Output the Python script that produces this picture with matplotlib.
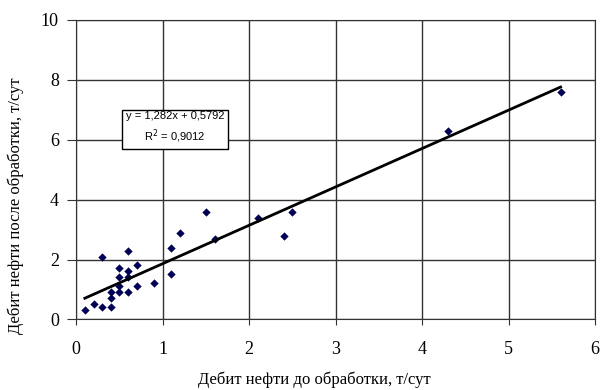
import numpy as np
import matplotlib.pyplot as plt

plt.rcParams['font.family'] = ['Liberation Serif', 'DejaVu Serif']

# debit before / after treatment, t/day
x_before = [0.1, 0.2, 0.3, 0.4, 0.4, 0.4, 0.3, 0.5, 0.5, 0.5, 0.5, 0.6, 0.6, 0.6, 0.6,
            0.7, 0.7, 0.9, 1.1, 1.1, 1.2, 1.5, 1.6, 2.1, 2.4, 2.5, 4.3, 5.6]
y_after = [0.3, 0.5, 0.4, 0.4, 0.7, 0.9, 2.1, 0.9, 1.1, 1.4, 1.7, 0.9, 1.6, 2.3, 1.4,
           1.8, 1.1, 1.2, 2.4, 1.5, 2.9, 3.6, 2.7, 3.4, 2.8, 3.6, 6.3, 7.6]
slope = 1.282
intercept = 0.5792
r2 = 0.9012

fig = plt.figure(figsize=(6, 3.9), dpi=100)
ax = fig.add_axes([0.127, 0.181, 0.865, 0.768])

ax.scatter(x_before, y_after, marker='D', s=18, color='#000055', zorder=3, linewidths=0)
xl = np.array([min(x_before), max(x_before)])
ax.plot(xl, slope * xl + intercept, color='black', linewidth=2, zorder=4)

ax.set_xlim(0, 6)
ax.set_ylim(0, 10)
ax.set_xticks(range(0, 7))
ax.set_yticks(range(0, 11, 2))
ax.grid(True, color='#333333', linewidth=1)
ax.set_axisbelow(True)
for s in ax.spines.values():
    s.set_color('#333333')
ax.tick_params(direction='out', color='#333333', labelsize=13)
ax.tick_params(axis='x', length=4.5, pad=11)
ax.tick_params(axis='y', length=6.5, pad=6)

ax.set_xlabel('Дебит нефти до обработки, т/сут', fontsize=12)
ax.set_ylabel('Дебит нефти после обработки, т/сут', fontsize=12)
ax.xaxis.set_label_coords(0.459, -0.175)
ax.yaxis.set_label_coords(-0.1, 0.38)

ax.text(1.14, 6.4, 'y = 1,282x + 0,5792\nR$^2$ = 0,9012', family=['Liberation Sans'],
        fontsize=8, ha='center', va='center', linespacing=1.5, zorder=5,
        bbox=dict(boxstyle='square,pad=0.35', facecolor='white', edgecolor='black', linewidth=1))

plt.savefig('out.png', format='png')
